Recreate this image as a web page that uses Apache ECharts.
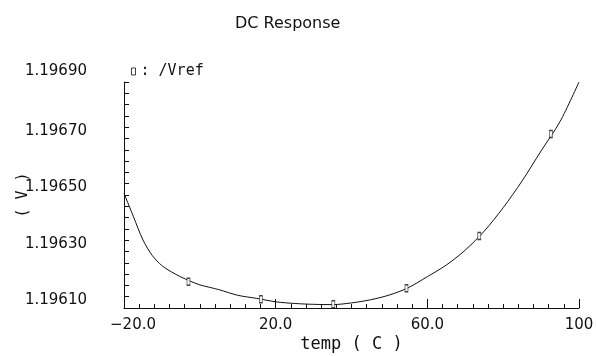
<!DOCTYPE html>
<html>
<head>
<meta charset="utf-8">
<title>DC Response</title>
<script src="https://cdn.jsdelivr.net/npm/echarts@6/dist/echarts.min.js"></script>
<style>
  html, body { margin: 0; padding: 0; background: #fff; }
  #chart { width: 596px; height: 356px; }
</style>
</head>
<body>
<div id="chart"></div>
<script>
// curve (temp in C, Vref in V)
const temps = [-20, -17.5, -15, -12.5, -10, -7.5, -5, -2.5, 0, 5, 10, 15, 20, 25, 30, 35,
               40, 45, 50, 55, 60, 65, 70, 75, 80, 85, 90, 95, 100];
const vref = [1.196506, 1.196423, 1.196341, 1.196285, 1.196250, 1.196228, 1.196210, 1.196195,
              1.196182, 1.196165, 1.196145, 1.196134, 1.196122, 1.196116, 1.196113, 1.196112,
              1.196118, 1.196129, 1.196146, 1.196172, 1.196211, 1.196252, 1.196305, 1.196372,
              1.196455, 1.196550, 1.196656, 1.196760, 1.196900];

// the little box markers cadence puts on the trace
const markerTemps = [-3.0, 16.1, 35.2, 54.5, 73.7, 92.6];
const markerVref = [1.196193, 1.196131, 1.196113, 1.196170, 1.196355, 1.196716];

const xTickLabels = ['\u221220.0', '20.0', '60.0', '100'];
const yTickLabels = ['1.19610', '1.19630', '1.19650', '1.19670', '1.19690'];

// axes start off the tick grid, so plot offsets from the first tick
const xBase = -20, xStep = 40;
const yBase = 1.19610, yScale = 1e5, yStep = 20;

const toX = t => t - xBase;
const toY = v => Math.round((v - yBase) * yScale * 1000) / 1000;

const curve = temps.map((t, i) => [toX(t), toY(vref[i])]);
const markers = markerTemps.map((t, i) => [toX(t), toY(markerVref[i])]);

const ink = '#111';
const font = 'DejaVu Sans';
const mono = 'DejaVu Sans Mono';

const chart = echarts.init(document.getElementById('chart'));
chart.setOption({
  animation: false,
  backgroundColor: '#fff',
  title: {
    text: 'DC Response',
    left: 230,
    top: 11,
    textStyle: { fontFamily: font, fontSize: 16, fontWeight: 'normal', color: ink }
  },
  legend: {
    data: ['/Vref'],
    left: 126,
    top: 59,
    icon: 'rect',
    itemWidth: 4,
    itemHeight: 7,
    itemStyle: { color: '#fff', borderColor: ink, borderWidth: 1 },
    formatter: ': {name}',
    textStyle: { fontFamily: mono, fontSize: 15, color: ink }
  },
  grid: { left: 124, right: 17, top: 82, bottom: 48, outerBoundsMode: 'none' },
  xAxis: {
    type: 'value',
    min: 0,
    max: 120,
    interval: xStep,
    name: 'temp ( C )',
    nameLocation: 'middle',
    nameGap: 28,
    nameMoveOverlap: false,
    nameTextStyle: { fontFamily: mono, fontSize: 17, color: ink },
    axisLine: { show: true, lineStyle: { color: ink, width: 1 } },
    axisTick: { show: true, inside: true, length: 9, lineStyle: { color: ink } },
    minorTick: { show: true, splitNumber: 10, length: 4, lineStyle: { color: ink } },
    splitLine: { show: false },
    axisLabel: {
      margin: 10,
      fontFamily: font,
      fontSize: 15,
      color: ink,
      formatter: v => {
        const i = Math.round(v / xStep);
        return i === 0 ? '{first|' + xTickLabels[i] + '}' : xTickLabels[i];
      },
      rich: { first: { fontFamily: font, fontSize: 15, color: ink, padding: [0, 0, 0, 18] } }
    }
  },
  yAxis: {
    type: 'value',
    min: 0,
    max: 80,
    interval: yStep,
    name: '( V )',
    nameLocation: 'middle',
    nameGap: 93,
    nameMoveOverlap: false,
    nameTextStyle: { fontFamily: mono, fontSize: 15, color: ink },
    axisLine: { show: true, lineStyle: { color: ink, width: 1 } },
    axisTick: { show: true, inside: true, length: 5, lineStyle: { color: ink } },
    minorTick: { show: true, splitNumber: 5, length: 5, lineStyle: { color: ink } },
    splitLine: { show: false },
    axisLabel: {
      margin: 37,
      verticalAlign: 'bottom',
      fontFamily: font,
      fontSize: 15,
      color: ink,
      formatter: v => {
        const i = Math.round(v / yStep);
        return i === yTickLabels.length - 1 ? '{top|' + yTickLabels[i] + '}' : yTickLabels[i];
      },
      rich: { top: { fontFamily: font, fontSize: 15, color: ink, padding: [0, 0, 3, 0] } }
    }
  },
  series: [
    {
      name: 'curve',
      type: 'line',
      data: curve,
      smooth: 0.3,
      showSymbol: false,
      lineStyle: { color: ink, width: 1 },
      z: 2
    },
    {
      name: '/Vref',
      type: 'scatter',
      data: markers,
      symbol: 'rect',
      symbolSize: [3, 7],
      itemStyle: { color: '#fff', borderColor: ink, borderWidth: 1 },
      z: 3
    }
  ]
});
</script>
</body>
</html>
